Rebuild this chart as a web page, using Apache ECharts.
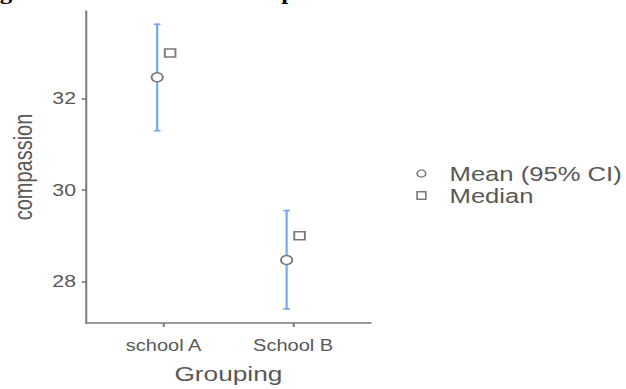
<!DOCTYPE html>
<html>
<head>
<meta charset="utf-8">
<script src="https://cdn.jsdelivr.net/npm/echarts@6/dist/echarts.min.js"></script>
<style>
html,body{margin:0;padding:0;background:#fff;overflow:hidden}
#wrap{width:626px;height:389px;overflow:hidden}
#c{width:501px;height:389px;transform:scaleX(1.25);transform-origin:0 0}
</style>
</head>
<body>
<div id="wrap"><div id="c"></div></div>
<script>
const titleText = 'Figure 4: Mean score of compassion';
const categories = ['school A', 'School B'];
const meanValues = [32.47, 28.47];
const ciLower = [31.30, 27.40];
const ciUpper = [33.63, 29.55];
const medianValues = [33.0, 29.0];
const yTicks = [28, 30, 32];
const seriesNames = ['Mean (95% CI)', 'Median'];

const dodge = 0.05;
const catPos = categories.map((c, i) => i + 1);
const meanData = meanValues.map((v, i) => [catPos[i] - dodge, v]);
const ciData = categories.map((c, i) => [catPos[i] - dodge, ciLower[i], ciUpper[i]]);
const medianData = medianValues.map((v, i) => [catPos[i] + dodge, v]);

const gray = '#7a7a7a';
const txt = '#585858';
const blue = '#72a6ee';
const sans = 'Liberation Sans';

const chart = echarts.init(document.getElementById('c'), null, {renderer: 'svg'});
chart.setOption({
  animation: false,
  backgroundColor: '#fff',
  title: {
    text: titleText,
    left: -23, top: -23,
    textStyle: {fontFamily: 'Liberation Serif', fontWeight: 'bold', fontSize: 20, color: '#000'}
  },
  grid: {left: 68.8, right: 204.4, top: 11, bottom: 62, containLabel: false},
  xAxis: {
    type: 'value', min: 0.4, max: 2.6,
    splitLine: {show: false},
    axisLine: {show: true, lineStyle: {color: gray, width: 1.6}},
    axisTick: {show: true, length: 4, customValues: catPos, lineStyle: {color: gray, width: 1.6}},
    axisLabel: {customValues: catPos, formatter: v => categories[Math.round(v) - 1] || '',
      color: txt, fontSize: 16, fontFamily: sans, margin: 15},
    name: 'Grouping', nameLocation: 'middle', nameGap: 40,
    nameTextStyle: {color: txt, fontSize: 21, fontFamily: sans}
  },
  yAxis: {
    type: 'value', min: 27.09, max: 33.92,
    splitLine: {show: false},
    axisLine: {show: true, lineStyle: {color: gray, width: 1.6}},
    axisTick: {show: true, length: 3.5, customValues: yTicks, lineStyle: {color: gray, width: 1.6}},
    axisLabel: {customValues: yTicks, color: txt, fontSize: 17, fontFamily: sans, margin: 8},
    name: 'compassion', nameLocation: 'middle', nameGap: 40, nameRotate: 90,
    nameTextStyle: {color: txt, fontSize: 20, fontFamily: sans}
  },
  legend: {
    orient: 'vertical', left: 328, top: 158, itemWidth: 7, itemHeight: 7.5, itemGap: 1,
    textStyle: {color: txt, fontSize: 20.5, fontFamily: sans, padding: [0, 0, 0, 14]},
    data: [
      {name: seriesNames[0], icon: 'circle', itemStyle: {color: '#fff', borderColor: gray, borderWidth: 1.3}},
      {name: seriesNames[1], icon: 'rect', itemStyle: {color: '#fff', borderColor: gray, borderWidth: 1.3}}
    ]
  },
  series: [
    {
      type: 'custom', name: 'CI', z: 1, silent: true,
      data: ciData,
      encode: {x: 0, y: [1, 2]},
      renderItem: function (params, api) {
        const x = api.value(0);
        const lo = api.coord([x, api.value(1)]);
        const hi = api.coord([x, api.value(2)]);
        const cap = 2.6;
        const st = {stroke: blue, lineWidth: 1.7};
        return {type: 'group', children: [
          {type: 'line', shape: {x1: lo[0], y1: lo[1], x2: hi[0], y2: hi[1]}, style: st},
          {type: 'line', shape: {x1: lo[0] - cap, y1: lo[1], x2: lo[0] + cap, y2: lo[1]}, style: st},
          {type: 'line', shape: {x1: hi[0] - cap, y1: hi[1], x2: hi[0] + cap, y2: hi[1]}, style: st}
        ]};
      }
    },
    {
      type: 'scatter', name: seriesNames[0], z: 3, symbol: 'circle', symbolSize: 9,
      data: meanData,
      itemStyle: {color: '#fff', borderColor: gray, borderWidth: 1.5, opacity: 1}
    },
    {
      type: 'scatter', name: seriesNames[1], z: 3, symbol: 'rect', symbolSize: [8.5, 8],
      data: medianData,
      itemStyle: {color: '#fff', borderColor: gray, borderWidth: 1.5, opacity: 1}
    }
  ]
});
</script>
</body>
</html>
